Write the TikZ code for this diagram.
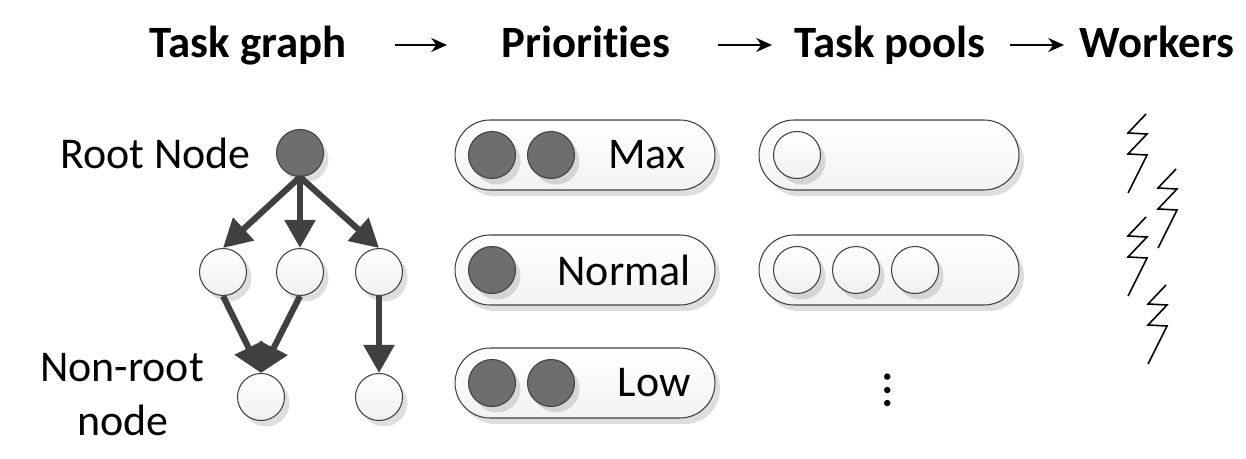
\documentclass[tikz,border=0pt]{standalone}
\usepackage{fontspec}
\setmainfont[Ligatures=NoCommon]{Carlito}
\usetikzlibrary{arrows.meta,shadows}
\definecolor{edgec}{HTML}{404040}
\definecolor{darkfill}{HTML}{6e6e6e}
\tikzset{
  px/.style={x=0.02cm,y=-0.02cm},
  heading/.style={font=\fontsize{25.5}{30}\selectfont\bfseries, inner sep=0pt, anchor=base},
  lbl/.style={font=\fontsize{25}{30}\selectfont, inner sep=0pt},
  shad/.style={drop shadow={shadow xshift=0.1cm, shadow yshift=-0.12cm, fill=black, opacity=0.13}},
  lightnode/.style={circle, draw=edgec, line width=0.6pt, minimum size=0.94cm, inner sep=0pt, top color=white, bottom color=gray!12, shad},
  darknode/.style={circle, draw=edgec, line width=0.6pt, minimum size=0.94cm, inner sep=0pt, fill=darkfill, shad},
  pill/.style={rectangle, rounded corners=0.7cm, draw=edgec, line width=0.6pt, minimum width=5.2cm, minimum height=1.4cm, inner sep=0pt, top color=white, bottom color=gray!10, shad},
  flow/.style={line width=3.5pt, draw=edgec, -{Triangle[length=16pt,width=17pt]}},
  headarrow/.style={line width=1pt, -{Stealth[length=9pt,width=8pt]}},
  boltline/.style={line width=0.9pt, line join=miter},
}
\begin{document}
\begin{tikzpicture}[px]
\useasboundingbox (0,0) rectangle (1246,459);

% headings
\node[heading] (hTG) at (248,58) {Task graph};
\node[heading] (hPR) at (586,58) {Priorities};
\node[heading] (hTP) at (890,58) {Task pools};
\node[heading] (hWK) at (1157,58) {Workers};
\coordinate (a1s) at (395,45); \coordinate (a1e) at (447,45);
\coordinate (a2s) at (718,45); \coordinate (a2e) at (772,45);
\coordinate (a3s) at (1010,45); \coordinate (a3e) at (1064,45);
\draw[headarrow] (a1s) -- (a1e);
\draw[headarrow] (a2s) -- (a2e);
\draw[headarrow] (a3s) -- (a3e);

% task graph
\node[lbl, anchor=east] (lroot) at (251,153) {Root Node};
\node[lbl] (lnon1) at (122,368) {Non-root};
\node[lbl] (lnon2) at (123,420) {node};
\node[darknode] (root) at (300,153) {};
\node[lightnode] (c1) at (223,272) {};
\node[lightnode] (c2) at (300,272) {};
\node[lightnode] (c3) at (379,272) {};
\node[lightnode] (g1) at (261,397) {};
\node[lightnode] (g2) at (379,397) {};
\draw[flow] (root.south) -- (c1.north);
\draw[flow] (root.south) -- (c2.north);
\draw[flow] (root.south) -- (c3.north);
\draw[flow] (c1.south) -- (g1.north);
\draw[flow] (c2.south) -- (g1.north);
\draw[flow] (c3.south) -- (g2.north);

% priorities
\node[pill] (pmax) at (585,155) {};
\node[pill] (pnorm) at (585,270) {};
\node[pill] (plow) at (585,383) {};
\node[darknode] (m1) at (492,155) {};
\node[darknode] (m2) at (551,155) {};
\node[darknode] (n1) at (492,270) {};
\node[darknode] (l1) at (492,383) {};
\node[darknode] (l2) at (551,383) {};
\node[lbl] (tmax) at (647,155) {Max};
\node[lbl] (tnorm) at (624,270) {Normal};
\node[lbl] (tlow) at (654,383) {Low};

% task pools
\node[pill] (tp1) at (889,155) {};
\node[pill] (tp2) at (889,270) {};
\node[lightnode] (q1) at (797,155) {};
\node[lightnode] (q2) at (797,270) {};
\node[lightnode] (q3) at (856,270) {};
\node[lightnode] (q4) at (915,270) {};
\node[font=\fontsize{30}{36}\selectfont, inner sep=0pt, rotate=90] (vdots) at (888,390) {…};

% workers
\foreach \bx/\by in {1146/114, 1176/169, 1146/217, 1166/285}{
  \draw[boltline] (\bx,\by) -- ++(-18,19) -- ++(19,1) -- ++(-19,20) -- ++(19,1) -- ++(-19,38);
}
\end{tikzpicture}
\end{document}
